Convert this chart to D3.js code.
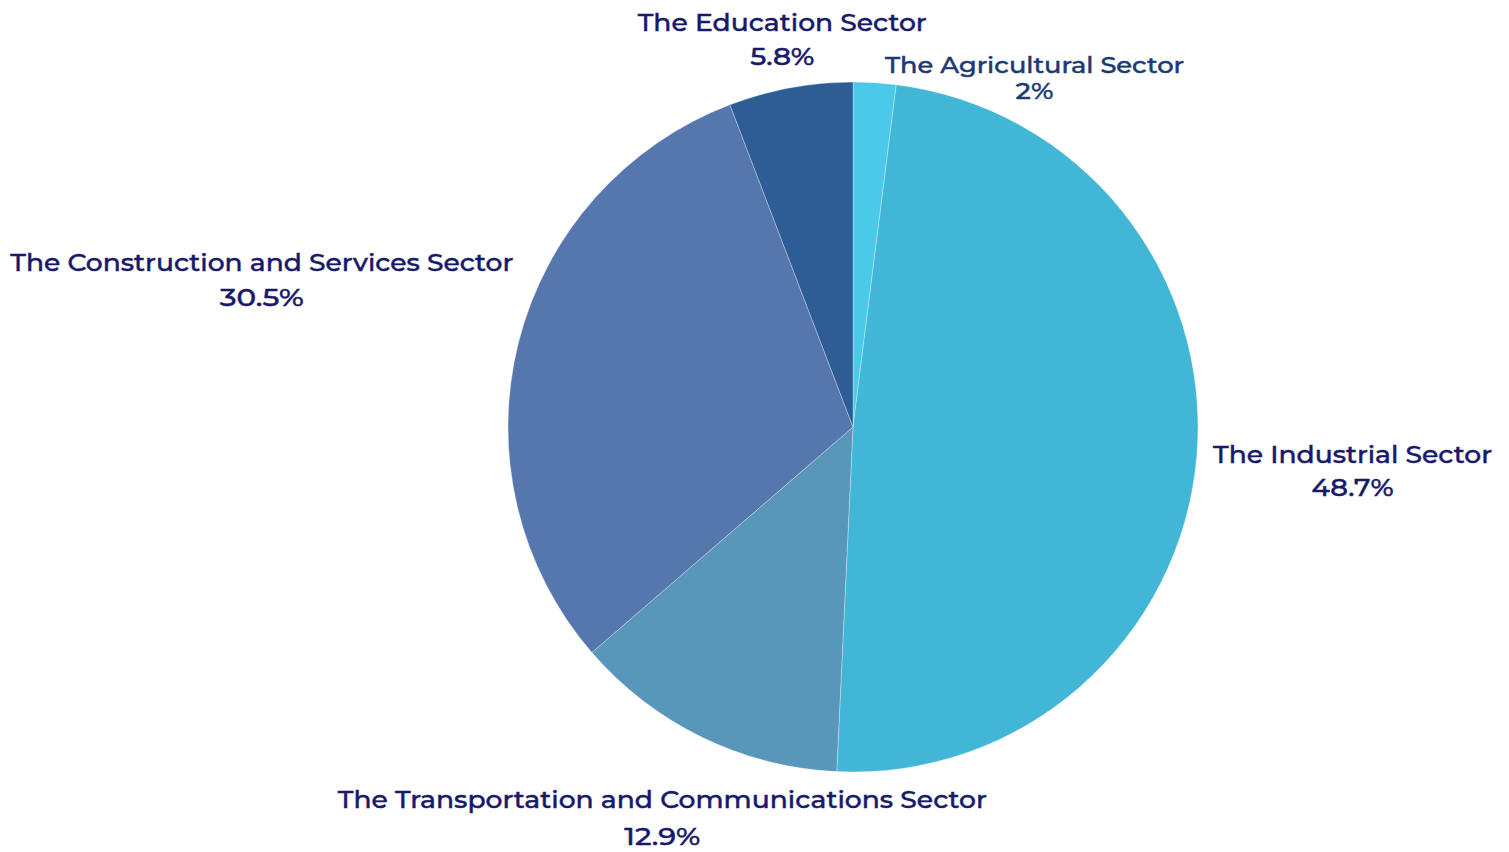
<!DOCTYPE html>
<html>
<head>
<meta charset="utf-8">
<script src="https://cdn.jsdelivr.net/npm/d3@7"></script>
<style>
  html, body { margin: 0; padding: 0; background: #ffffff; }
  svg { display: block; }
  text { font-family: "Montserrat", "Lato", "Open Sans", sans-serif; }
</style>
</head>
<body>
<svg id="chart" width="1509" height="852"></svg>
<script>
// Share of each sector (percent), clockwise from 12 o'clock
const sectors = [
  "The Agricultural Sector",
  "The Industrial Sector",
  "The Transportation and Communications Sector",
  "The Construction and Services Sector",
  "The Education Sector"
];
const shares = [2, 48.7, 12.9, 30.5, 5.8];
const shareLabels = ["2%", "48.7%", "12.9%", "30.5%", "5.8%"];
const sliceColors = ["#4acae8", "#42b6d6", "#5896ba", "#5677ae", "#2d5d94"];

const W = 1509, H = 852;
const cx = 853, cy = 427, R = 345;

// Label layout: radial anchor plus a per-label nudge, font size, width and colour
const labelRadius = 390;
const labelStyle = [
  { nx: 157, ny: 47, size: 22, name: 299, pct: 38, fill: "#1b3a72", gap: 26 },
  { nx: 111, ny: 18, size: 24, name: 279, pct: 82, fill: "#17196b", gap: 33 },
  { nx: -20, ny: 48, size: 24, name: 649, pct: 76, fill: "#17196b", gap: 37 },
  { nx: -213, ny: -44, size: 24, name: 503, pct: 84, fill: "#17196b", gap: 35 },
  { nx: 0, ny: 4, size: 24, name: 289, pct: 64, fill: "#17196b", gap: 34 }
];

const data = sectors.map((s, i) => ({ name: s, value: shares[i], label: shareLabels[i], color: sliceColors[i], style: labelStyle[i] }));

const svg = d3.select("#chart");
const g = svg.append("g").attr("transform", `translate(${cx},${cy})`);

const pie = d3.pie().value(d => d.value).sort(null);
const arc = d3.arc().innerRadius(0).outerRadius(R);
const arcs = pie(data);

g.selectAll("path.slice")
  .data(arcs)
  .enter().append("path")
  .attr("class", "slice")
  .attr("d", arc)
  .attr("fill", d => d.data.color)
  .attr("stroke", "#ffffff")
  .attr("stroke-opacity", 0.5)
  .attr("stroke-width", 0.6);

const labels = g.selectAll("g.label")
  .data(arcs)
  .enter().append("g")
  .attr("class", "label")
  .attr("transform", d => {
    const a = (d.startAngle + d.endAngle) / 2;
    const x = labelRadius * Math.sin(a) + d.data.style.nx;
    const y = -labelRadius * Math.cos(a) + d.data.style.ny;
    return `translate(${x},${y})`;
  });

function styleText(sel) {
  sel.attr("text-anchor", "middle")
    .attr("font-size", d => d.data.style.size)
    .attr("font-weight", 500)
    .attr("fill", d => d.data.style.fill)
    .attr("stroke", d => d.data.style.fill)
    .attr("stroke-width", 0.45)
    .attr("lengthAdjust", "spacingAndGlyphs");
}

labels.append("text")
  .call(styleText)
  .attr("y", d => -d.data.style.gap / 2 + 1)
  .attr("textLength", d => d.data.style.name)
  .text(d => d.data.name);

labels.append("text")
  .call(styleText)
  .attr("y", d => d.data.style.gap / 2 + 1)
  .attr("textLength", d => d.data.style.pct)
  .text(d => d.data.label);
</script>
</body>
</html>
